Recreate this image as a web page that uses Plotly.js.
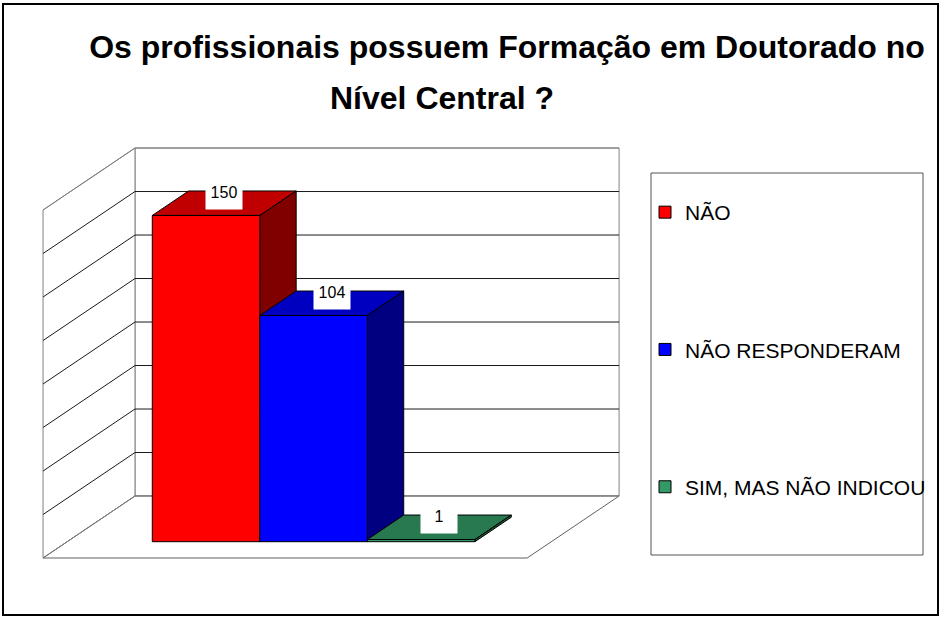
<!DOCTYPE html>
<html>
<head>
<meta charset="utf-8">
<script src="https://cdn.plot.ly/plotly-3.0.1.min.js"></script>
<style>html,body{margin:0;padding:0;background:#fff;}#chart{width:940px;height:617px;}</style>
</head>
<body>
<div id="chart"></div>
<script>
// ---- data ----
const categories = ['NÃO', 'NÃO RESPONDERAM', 'SIM, MAS NÃO INDICOU'];
const values = [150, 104, 1];
const frontColors = ['#FF0000', '#0000FF', '#339966'];
const topColors = ['#C00000', '#0000C0', '#287850'];
const sideColors = ['#800000', '#000080', '#1A5535'];
const gridValues = [0, 20, 40, 60, 80, 100, 120, 140, 160];
const titleLine1 = 'Os profissionais possuem Formação em Doutorado no';
const titleLine2 = 'Nível Central ?';

// ---- 3D projection helpers (oblique, in data units) ----
const DX = 0.855, DY = 28.5;     // full-depth offset
const tF = -0.263, tB = 0.737;   // floor front / back wall depth
const tb = 0.395;                // bar depth
const xL = -1.291, xR = 3.21;    // walls
const yTop = gridValues[gridValues.length - 1];
function P(x, y, t) { return [x + t * DX, y + t * DY]; }
function path(pts) { return 'M' + pts.map(p => p[0] + ',' + p[1]).join(' L') + ' Z'; }
function line(a, b) { return 'M' + a[0] + ',' + a[1] + ' L' + b[0] + ',' + b[1]; }

const shapes = [];
const GRAY = '#808080';
// back wall
shapes.push({type: 'path', xref: 'x', yref: 'y', layer: 'below',
  path: path([P(xL, 0, tB), P(xR, 0, tB), P(xR, yTop, tB), P(xL, yTop, tB)]),
  fillcolor: '#FFFFFF', line: {color: GRAY, width: 1}});
// left wall
shapes.push({type: 'path', xref: 'x', yref: 'y', layer: 'below',
  path: path([P(xL, 0, tF), P(xL, 0, tB), P(xL, yTop, tB), P(xL, yTop, tF)]),
  fillcolor: '#FFFFFF', line: {color: GRAY, width: 1}});
// floor
shapes.push({type: 'path', xref: 'x', yref: 'y', layer: 'below',
  path: path([P(xL, 0, tF), P(xR, 0, tF), P(xR, 0, tB), P(xL, 0, tB)]),
  fillcolor: '#FFFFFF', line: {color: '#606060', width: 1}});
// gridlines
gridValues.forEach((g, i) => {
  const c = (i === 0 || i === gridValues.length - 1) ? GRAY : '#1a1a1a';
  shapes.push({type: 'path', xref: 'x', yref: 'y', layer: 'below',
    path: line(P(xL, g, tB), P(xR, g, tB)), line: {color: c, width: 1}});
  shapes.push({type: 'path', xref: 'x', yref: 'y', layer: 'below',
    path: line(P(xL, g, tF), P(xL, g, tB)), line: {color: c, width: 1}});
});
// bar top & side faces
values.forEach((v, i) => {
  const x0 = i - 0.5, x1 = i + 0.5;
  shapes.push({type: 'path', xref: 'x', yref: 'y', layer: 'below',
    path: path([P(x0, v, 0), P(x1, v, 0), P(x1, v, tb), P(x0, v, tb)]),
    fillcolor: topColors[i], line: {color: '#000', width: 1}});
  shapes.push({type: 'path', xref: 'x', yref: 'y', layer: 'below',
    path: path([P(x1, 0, 0), P(x1, v, 0), P(x1, v, tb), P(x1, 0, tb)]),
    fillcolor: sideColors[i], line: {color: '#000', width: 1}});
});
// outer border and legend box (paper)
shapes.push({type: 'rect', xref: 'paper', yref: 'paper', layer: 'above',
  x0: 3 / 940, x1: 938 / 940, y0: 1 - 615 / 617, y1: 1 - 4 / 617,
  line: {color: '#000', width: 2}});
shapes.push({type: 'rect', xref: 'paper', yref: 'paper', layer: 'below',
  x0: 651 / 940, x1: 923 / 940, y0: 1 - 555 / 617, y1: 1 - 173 / 617,
  fillcolor: 'rgba(0,0,0,0)', line: {color: '#555', width: 1}});

const traces = categories.map((c, i) => ({
  type: 'bar', name: c, x: [i], y: [values[i]], width: 1,
  legendgroup: 'g' + i,
  marker: {color: frontColors[i], line: {color: '#000', width: 1}},
  hoverinfo: 'skip'
}));

const FONT = 'Arial, "Liberation Sans", sans-serif';
const annotations = values.map((v, i) => {
  const p = P(i, v, tb / 2);
  return {x: p[0], y: p[1], xref: 'x', yref: 'y', text: String(v), showarrow: false,
    yshift: 8, width: 32, height: 23, valign: 'top', bgcolor: '#FFFFFF', borderpad: 2,
    font: {family: FONT, size: 16, color: '#000'}};
});
annotations.push({xref: 'paper', yref: 'paper', x: 442 / 940, y: 1 - 98 / 617,
  xanchor: 'center', yanchor: 'middle', text: titleLine2, showarrow: false,
  font: {family: FONT, size: 32, color: '#000', weight: 'bold'}});

const layout = {
  width: 940, height: 617,
  margin: {l: 0, r: 0, t: 0, b: 0},
  paper_bgcolor: '#FFFFFF', plot_bgcolor: '#FFFFFF',
  title: {text: titleLine1, x: 507 / 940, xanchor: 'center', y: 1 - 47 / 617, yanchor: 'middle',
    font: {family: FONT, size: 32, color: '#000', weight: 'bold'}},
  xaxis: {range: [-1.916, 6.824], visible: false, fixedrange: true},
  yaxis: {range: [-34.62, 249.06], visible: false, fixedrange: true},
  barmode: 'overlay',
  showlegend: true,
  legend: {x: 645 / 940, xanchor: 'left', y: 1 - 192 / 617, yanchor: 'top',
    traceorder: 'grouped', tracegroupgap: 107, bgcolor: 'rgba(0,0,0,0)',
    font: {family: FONT, size: 21, color: '#000'}},
  shapes: shapes,
  annotations: annotations
};

Plotly.newPlot('chart', traces, layout, {displayModeBar: false, staticPlot: true});
</script>
</body>
</html>
